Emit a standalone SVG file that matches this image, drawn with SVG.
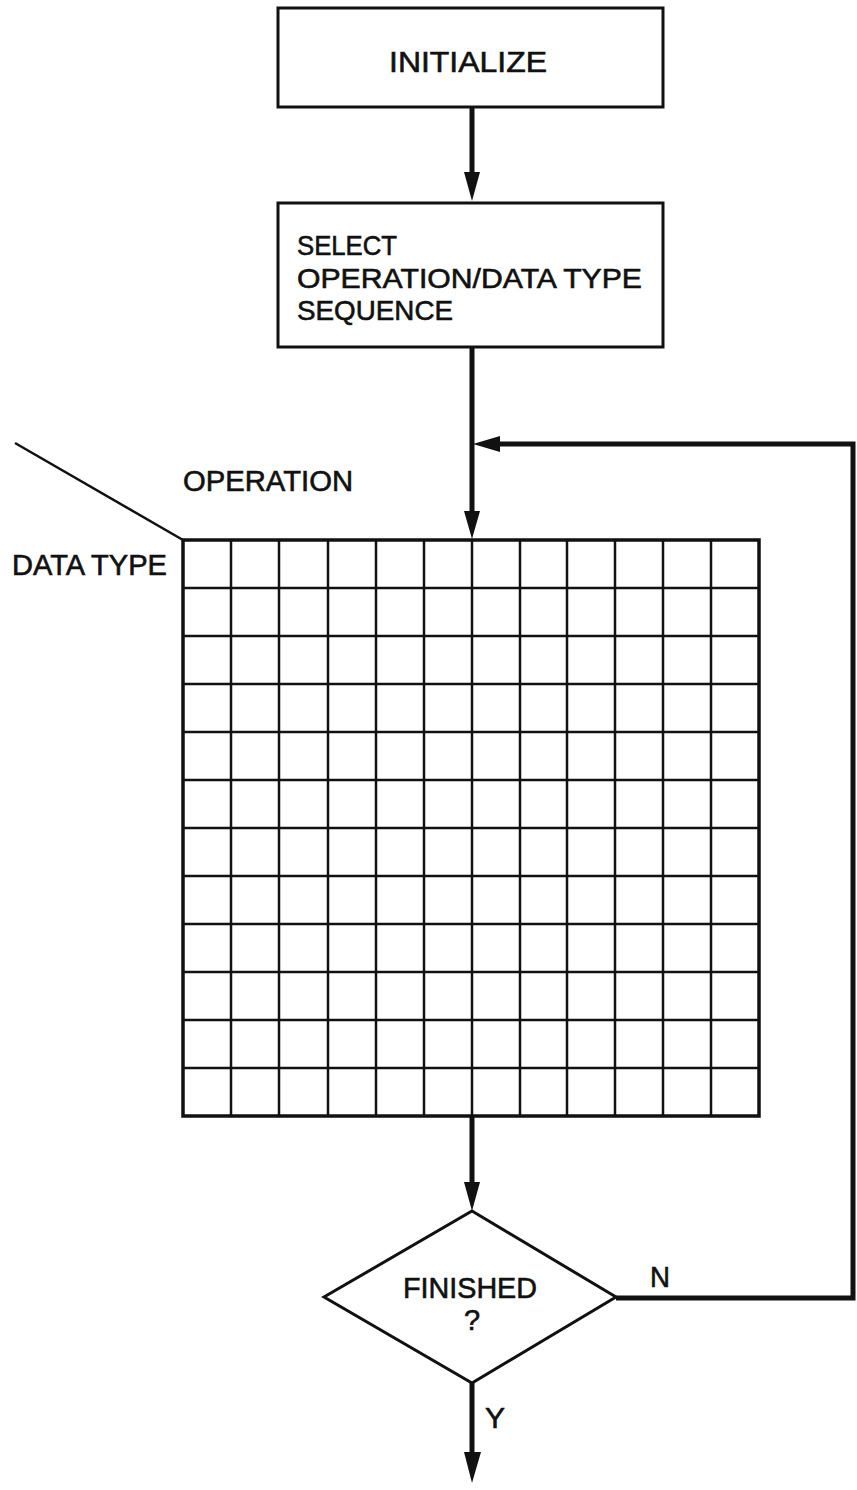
<svg xmlns="http://www.w3.org/2000/svg" width="857" height="1490" viewBox="0 0 857 1490">
<style>
text{font-family:"Liberation Sans",Arial,sans-serif;fill:#111;font-size:29px;stroke:#111;stroke-width:0.6}
.box{fill:#fff;stroke:#111;stroke-width:3}
.conn{fill:none;stroke:#111;stroke-width:5}
.grid{fill:none;stroke:#111;stroke-width:2.5}
.head{fill:#111}
</style>
<rect width="857" height="1490" fill="#fff"/>
<g id="initialize">
<rect class="box" x="278" y="8" width="385" height="99"/>
<text x="389" y="72" textLength="158" lengthAdjust="spacingAndGlyphs" style="font-size:30px">INITIALIZE</text>
</g>
<g id="select">
<rect class="box" x="278" y="203" width="385" height="144"/>
<text x="297" y="255" textLength="100" lengthAdjust="spacingAndGlyphs" style="font-size:28px">SELECT</text>
<text x="297" y="288" textLength="345" lengthAdjust="spacingAndGlyphs" style="font-size:28px">OPERATION/DATA TYPE</text>
<text x="297" y="320" textLength="156" lengthAdjust="spacingAndGlyphs" style="font-size:28px">SEQUENCE</text>
</g>
<g id="matrix">
<line x1="15" y1="443" x2="183" y2="540" stroke="#111" stroke-width="2.5"/>
<text x="183" y="491" textLength="170" lengthAdjust="spacingAndGlyphs">OPERATION</text>
<text x="12" y="575" textLength="155" lengthAdjust="spacingAndGlyphs">DATA TYPE</text>
<path class="grid" d="M231 540V1116M279 540V1116M328 540V1116M376 540V1116M424 540V1116M472 540V1116M520 540V1116M567 540V1116M615 540V1116M663 540V1116M711 540V1116
M183 588H759M183 636H759M183 684H759M183 732H759M183 780H759M183 828H759M183 876H759M183 924H759M183 972H759M183 1020H759M183 1068H759"/>
<rect x="183" y="540" width="576" height="576" fill="none" stroke="#111" stroke-width="3.5"/>
</g>
<g id="finished">
<polygon points="472,1211 616,1297 472,1383 324,1297" fill="#fff" stroke="#111" stroke-width="3"/>
<text x="403" y="1298" textLength="134" lengthAdjust="spacingAndGlyphs">FINISHED</text>
<text x="472" y="1330" text-anchor="middle">?</text>
</g>
<g id="connectors">
<line class="conn" x1="472" y1="107" x2="472" y2="176"/>
<polygon class="head" points="464,172 480,172 472,201"/>
<line class="conn" x1="472" y1="347" x2="472" y2="515"/>
<polygon class="head" points="464,511 480,511 472,539"/>
<line class="conn" x1="472" y1="1116" x2="472" y2="1186"/>
<polygon class="head" points="464,1182 480,1182 472,1211"/>
<polyline class="conn" points="616,1298 853,1298 853,444 496,444"/>
<polygon class="head" points="500,436 500,452 473,444"/>
<line class="conn" x1="472" y1="1383" x2="472" y2="1456"/>
<polygon class="head" points="464,1452 481,1452 472,1483"/>
<text x="650" y="1287" textLength="20" lengthAdjust="spacingAndGlyphs">N</text>
<text x="485" y="1428" textLength="20" lengthAdjust="spacingAndGlyphs">Y</text>
</g>
</svg>
